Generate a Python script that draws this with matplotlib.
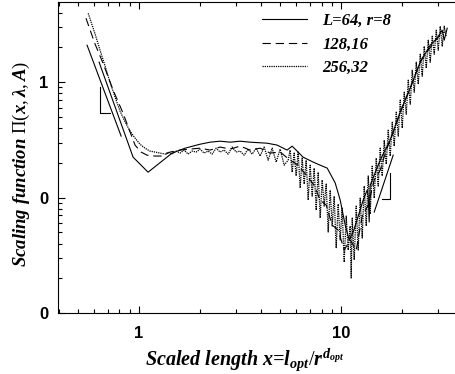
import numpy as np
import matplotlib
matplotlib.use('Agg')
import matplotlib.pyplot as plt
from matplotlib.ticker import FixedLocator, FixedFormatter, LogLocator, NullFormatter

plt.rcParams['mathtext.fontset'] = 'custom'
plt.rcParams['mathtext.it'] = 'Liberation Serif:italic:bold'
plt.rcParams['mathtext.rm'] = 'Liberation Serif'
plt.rcParams['mathtext.bf'] = 'Liberation Serif:bold'
plt.rcParams['lines.scale_dashes'] = False

# L=64, r=8 (solid)
x64 = [0.634, 0.934, 1.108, 1.457, 1.690, 2.004, 2.246, 2.518, 2.822, 3.162, 3.544,
       4.30, 4.82, 5.40, 5.72, 6.05, 6.48, 7.27, 7.87, 8.53, 9.34, 9.89, 10.47,
       10.96, 11.47, 12.14, 12.85, 13.45, 13.61, 13.76, 13.92, 15.6, 17.48, 19.59,
       21.96, 24.61, 27.58, 29.87, 31.62, 32.35, 33.48]
y64 = [1.491, 0.224, 0.166, 0.243, 0.268, 0.290, 0.302, 0.308, 0.302, 0.308, 0.302,
       0.296, 0.285, 0.258, 0.279, 0.253, 0.224, 0.203, 0.191, 0.180, 0.134, 0.0952, 0.0578,
       0.0429, 0.0503, 0.0690, 0.0952, 0.116, 0.103, 0.0614, 0.128, 0.211, 0.315, 0.550,
       0.887, 1.491, 2.091, 2.404, 2.820, 2.310, 2.935]

# 128,16 (dashed)
x128 = [0.546, 0.606, 0.663, 0.744, 0.833, 0.903, 0.955, 1.023, 1.095, 1.200, 1.300,
        1.424, 1.596, 1.788, 2.004, 2.246, 2.518, 2.822, 3.162, 3.544, 3.972, 4.451,
        4.989, 5.591, 6.126, 6.710, 7.349, 7.870, 8.429, 9.025, 9.663, 10.35, 11.08,
        11.87, 12.71, 13.61, 14.57, 15.60, 16.71, 17.89, 19.15, 20.51, 21.96, 23.51,
        25.18, 26.96, 28.87, 30.91, 32.72]
y128 = [3.583, 2.133, 1.460, 0.853, 0.539, 0.369, 0.285, 0.248, 0.233, 0.229, 0.229,
        0.248, 0.258, 0.263, 0.268, 0.258, 0.274, 0.263, 0.279, 0.258, 0.268, 0.243,
        0.248, 0.211, 0.191, 0.157, 0.128, 0.0952, 0.0861, 0.0578, 0.0523, 0.0351, 0.0429,
        0.0351, 0.0690, 0.0861, 0.142, 0.173, 0.258, 0.348, 0.488, 0.671, 0.887, 1.221,
        1.614, 1.893, 2.220, 2.604, 2.710]

# 256,32 (dotted, noisy)
x256 = [0.56, 0.606, 0.641, 0.679, 0.718, 0.761, 0.805, 0.853, 0.902, 0.955, 1.01,
        1.07, 1.13, 1.20, 1.27, 1.35,
        1.392, 1.457, 1.525, 1.596, 1.671, 1.748, 1.830, 1.915, 2.004, 2.098, 2.196,
        2.298, 2.405, 2.518, 2.635, 2.758, 2.887, 3.021, 3.162, 3.310, 3.464, 3.626,
        3.795, 3.972, 4.158, 4.352, 4.555, 4.768, 4.989, 5.222, 5.466,
        5.591, 5.720, 5.852, 5.987, 6.126, 6.267, 6.412, 6.560, 6.711, 6.866,
        7.024, 7.186, 7.352, 7.521, 7.695, 7.872, 8.054, 8.239, 8.429, 8.624,
        8.823, 9.026, 9.234, 9.446, 9.664, 9.887, 10.11, 10.35, 10.59, 10.83,
        11.08, 11.21, 11.34, 11.60, 11.87, 12.14, 12.42, 12.71, 13.00, 13.30, 13.61,
        13.92, 14.24, 14.57, 14.91, 15.25, 15.60, 15.96, 16.33, 16.71, 17.09,
        17.49, 17.89, 18.30, 18.73, 19.16, 19.60, 20.05, 20.51, 20.99, 21.47,
        21.97, 22.47, 22.99, 23.52, 24.06, 24.61, 25.18, 25.76, 26.36, 26.96,
        27.58, 28.22, 28.87, 29.54, 30.22, 30.91, 31.62, 32.35, 33.10]
y256 = [3.95, 2.61, 1.89, 1.38, 1.0, 0.741, 0.561, 0.451, 0.377, 0.328, 0.290,
        0.268, 0.253, 0.248, 0.243, 0.238,
        0.248, 0.238, 0.253, 0.243, 0.258, 0.238, 0.253, 0.248, 0.263, 0.243, 0.253,
        0.238, 0.268, 0.248, 0.258, 0.238, 0.274, 0.248, 0.253, 0.233, 0.263, 0.238,
        0.268, 0.229, 0.274, 0.211, 0.268, 0.203, 0.263, 0.191, 0.211,
        0.258, 0.166, 0.243, 0.154, 0.248, 0.121, 0.220, 0.131, 0.211, 0.0952,
        0.191, 0.103, 0.180, 0.0779, 0.166, 0.0665, 0.142, 0.0844, 0.131, 0.0503,
        0.116, 0.0567, 0.103, 0.0365, 0.0879, 0.0429, 0.0811, 0.0276, 0.0692, 0.0351,
        0.0567, 0.0201, 0.0665, 0.0288, 0.0844, 0.0351, 0.0990, 0.0446, 0.126, 0.0567, 0.154,
        0.0720, 0.187, 0.0990, 0.220, 0.126, 0.268, 0.154, 0.315, 0.195, 0.384,
        0.229, 0.450, 0.279, 0.550, 0.341, 0.699, 0.400, 0.819, 0.528, 1.041,
        0.645, 1.270, 0.819, 1.490, 0.961, 1.748, 1.127, 2.050, 1.322, 2.310,
        1.490, 2.502, 1.748, 2.820, 1.893, 3.054, 2.050, 3.054, 2.502]

# slope guides
guide_left_x = [0.553, 0.815]
guide_left_y = [2.091, 0.341]
tri_left_x = [0.641, 0.641, 0.718]
tri_left_y = [0.905, 0.539, 0.539]
guide_right_x = [14.57, 18.09]
guide_right_y = [0.0749, 0.233]
tri_right_x = [17.48, 17.48, 15.96]
tri_right_y = [0.163, 0.0971, 0.0971]

fig = plt.figure(figsize=(4.56, 3.74), dpi=100)
ax = fig.add_axes([58/456, 1-313/374, 398/456, 311/374])

ax.plot(x64, y64, color='black', lw=0.8, label='L=64, r=8')
ax.plot(x128, y128, color='black', lw=0.8, dashes=(6, 3.5), label='128,16')
ax.plot(x256, y256, color='black', lw=0.9, dashes=(0.9, 0.7), label='256,32')

for gx, gy in [(guide_left_x, guide_left_y), (tri_left_x, tri_left_y),
               (guide_right_x, guide_right_y), (tri_right_x, tri_right_y)]:
    ax.plot(gx, gy, color='black', lw=0.8)

ax.set_xscale('log')
ax.set_yscale('log')
ax.set_xlim(0.397, 37)
ax.set_ylim(0.01, 4.95)

ax.xaxis.set_major_locator(FixedLocator([1, 10]))
ax.xaxis.set_major_formatter(FixedFormatter(['1', '10']))
ax.xaxis.set_minor_locator(LogLocator(base=10, subs=np.arange(2, 10)))
ax.xaxis.set_minor_formatter(NullFormatter())
ax.yaxis.set_major_locator(FixedLocator([0.01, 0.1, 1]))
ax.yaxis.set_major_formatter(FixedFormatter(['0', '0', '1']))
ax.yaxis.set_minor_locator(LogLocator(base=10, subs=np.arange(2, 10)))
ax.yaxis.set_minor_formatter(NullFormatter())

ax.spines['right'].set_visible(False)
ax.tick_params(which='both', direction='in', top=True, right=False, width=0.8)
ax.tick_params(which='major', length=5, pad=7)
ax.tick_params(axis='x', which='major', pad=9)
ax.tick_params(which='minor', length=3)
for lab in ax.get_xticklabels() + ax.get_yticklabels():
    lab.set_fontfamily('Liberation Sans')
    lab.set_fontweight('bold')
    lab.set_fontsize(12)

ax.set_xlabel(r'Scaled length $x$=$l_{opt}/r^{d_{opt}}$', fontfamily='Liberation Serif',
              fontstyle='italic', fontweight='bold', fontsize=14.5)
ax.xaxis.set_label_coords(0.47, -0.105)
ax.set_ylabel(r'Scaling function $\Pi(x,\lambda,A)$', fontfamily='Liberation Serif',
              fontstyle='italic', fontweight='bold', fontsize=13.5)
ax.yaxis.set_label_coords(-0.065, 0.48)

leg = ax.legend(loc='upper left', bbox_to_anchor=(0.513, 0.965), frameon=False,
                borderpad=0, borderaxespad=0, handlelength=2.7, handletextpad=0.9,
                labelspacing=0.45,
                prop={'family': 'Liberation Serif', 'style': 'italic', 'weight': 'bold', 'size': 12})

fig.savefig('out.png', dpi=100)
